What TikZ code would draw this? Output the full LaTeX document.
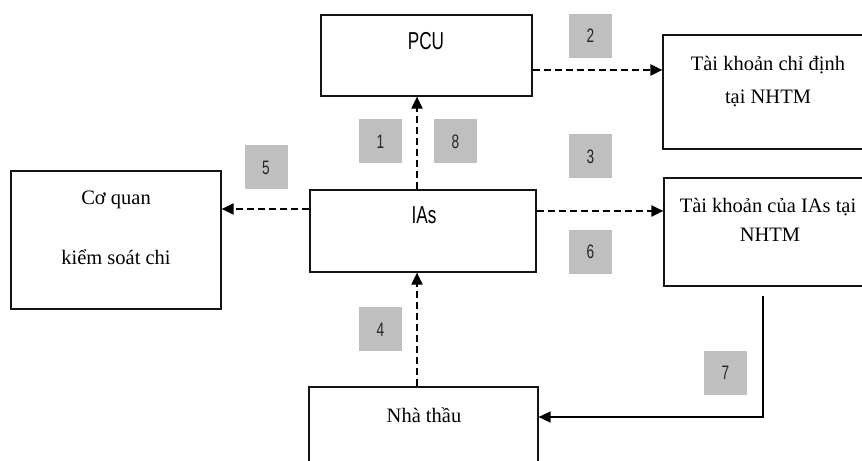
\documentclass[tikz,border=0pt]{standalone}
\usepackage{fontspec}
\setmainfont{Liberation Serif}
\newfontfamily\narrowsans[FakeStretch=0.7]{Liberation Sans}
\usetikzlibrary{arrows.meta}
\definecolor{labgray}{RGB}{191,191,191}
\definecolor{boxline}{RGB}{20,20,20}
\tikzset{
  box/.style={draw=boxline, line width=1.2bp, inner sep=0pt, minimum width=#1},
  vtext/.style={anchor=base, inner sep=0pt, text=black, font=\fontsize{20.5bp}{24bp}\selectfont},
  stext/.style={anchor=base, inner sep=0pt, text=black, font=\narrowsans\fontsize{24.5bp}{28bp}\selectfont},
  numlab/.style={fill=labgray, minimum width=43bp, minimum height=44bp, inner sep=0pt, text=black!85, font=\narrowsans\fontsize{19.5bp}{21bp}\selectfont},
  dasharrow/.style={draw=black, line width=2bp, dash pattern=on 7bp off 4bp, -{Triangle[length=12bp,width=11bp]}},
  solidarrow/.style={draw=black, line width=1.6bp, -{Triangle[length=12bp,width=11bp]}},
}
\begin{document}
\begin{tikzpicture}[x=1bp,y=-1bp]
\useasboundingbox (0,0) rectangle (862,461);
% boxes
\node[box=211bp, minimum height=81bp] (pcu) at (426.5,55.5) {};
\node[box=220bp, minimum height=114bp] (acc1) at (773,92) {};
\node[box=210bp, minimum height=138bp] (cq) at (116,240) {};
\node[box=226bp, minimum height=82bp] (ias) at (423,231) {};
\node[box=220bp, minimum height=108bp] (acc2) at (774,232) {};
\node[box=229bp, minimum height=93bp] (nt) at (423.5,433.5) {};
% texts
\node[stext] (tpcu) at (426,50) {PCU};
\node[stext] (tias) at (424,224) {IAs};
\node[vtext] (tacc1a) at (768,70.5) {Tài khoản chỉ định};
\node[vtext] (tacc1b) at (768,104) {tại NHTM};
\node[vtext] (tcqa) at (116,205) {Cơ quan};
\node[vtext] (tcqb) at (116,265) {kiểm soát chi};
\node[vtext] (tacc2a) at (768,213) {Tài khoản của IAs tại};
\node[vtext] (tacc2b) at (770,242) {NHTM};
\node[vtext] (tnt) at (424,422) {Nhà thầu};
% number labels
\node[numlab] (l2) at (590.5,36) {2};
\node[numlab] (l1) at (380.5,141.5) {1};
\node[numlab] (l8) at (455.5,141.5) {8};
\node[numlab] (l3) at (590.5,156.5) {3};
\node[numlab] (l5) at (266,167.5) {5};
\node[numlab] (l6) at (590.5,252) {6};
\node[numlab] (l4) at (380.5,329.5) {4};
\node[numlab] (l7) at (725.5,373) {7};
% connectors
\draw[dasharrow] ([yshift=-14.5bp]pcu.east) -- ([yshift=-14.5bp]pcu.east -| acc1.west);
\draw[dasharrow] ([xshift=-6bp]ias.north) -- ([xshift=-6bp]ias.north |- pcu.south);
\draw[dasharrow] ([yshift=22bp]ias.west) -- ([yshift=22bp]ias.west -| cq.east);
\draw[dasharrow] ([yshift=20bp]ias.east) -- ([yshift=20bp]ias.east -| acc2.west);
\draw[dasharrow] ([xshift=-6.5bp]nt.north) -- ([xshift=-6.5bp]nt.north |- ias.south);
\draw[solidarrow] ([xshift=-11bp,yshift=-9bp]acc2.south) |- ([yshift=16.5bp]nt.east);
\end{tikzpicture}
\end{document}
